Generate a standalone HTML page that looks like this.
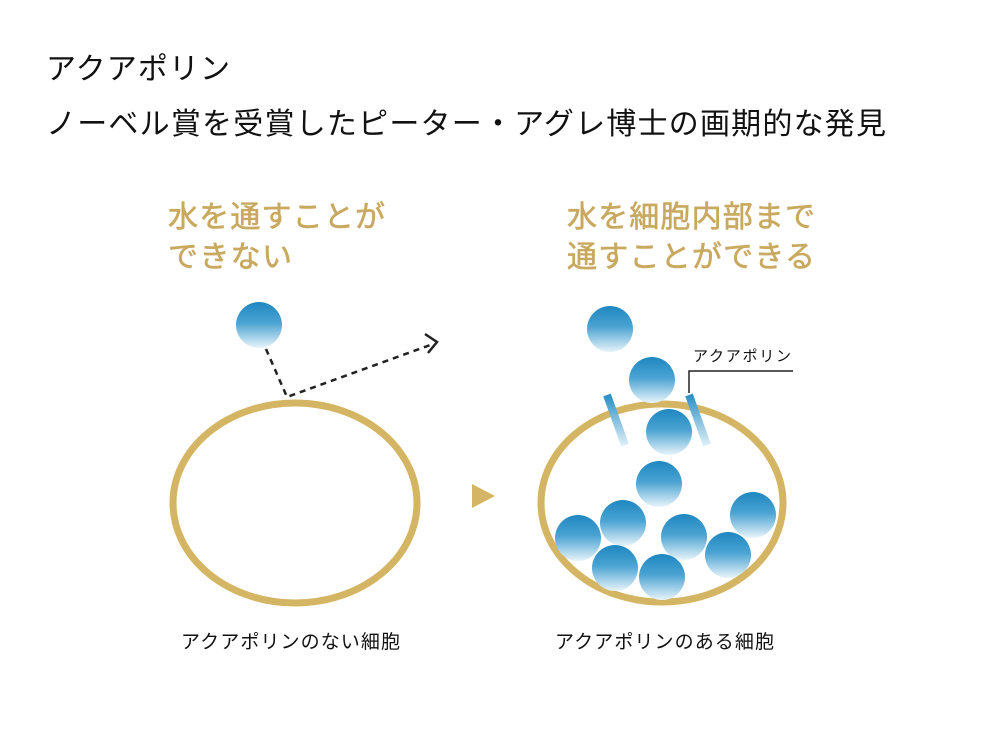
<!DOCTYPE html>
<html><head><meta charset="utf-8"><style>
html,body{margin:0;padding:0;background:#fff;}
svg{display:block;}
text{font-family:"Liberation Sans","Noto Sans CJK JP",sans-serif;}
</style></head><body>
<svg width="1000" height="750" viewBox="0 0 1000 750" xmlns="http://www.w3.org/2000/svg">
<defs>
<linearGradient id="b" x1="0" y1="0" x2="0" y2="1">
<stop offset="0" stop-color="#1f87c0"/><stop offset="0.45" stop-color="#4aa3d2"/><stop offset="1" stop-color="#e8f4fa"/>
</linearGradient>
<linearGradient id="c" x1="0" y1="0" x2="0" y2="1">
<stop offset="0" stop-color="#2a8fc4"/><stop offset="1" stop-color="#dceef8"/>
</linearGradient>
</defs>
<text x="46" y="79" font-size="30" fill="#111" textLength="184">アクアポリン</text>
<text x="46" y="134" font-size="30" fill="#111" textLength="840">ノーベル賞を受賞したピーター・アグレ博士の画期的な発見</text>

<g fill="#c9a95f" stroke="#c9a95f" stroke-width="0.6" font-size="30">
<text x="168" y="227" textLength="217">水を通すことが</text>
<text x="168" y="267" textLength="124">できない</text>
<text x="567" y="227" textLength="248">水を細胞内部まで</text>
<text x="567" y="267" textLength="248">通すことができる</text>
</g>

<circle cx="259" cy="325" r="23" fill="url(#b)"/>
<polyline points="266,349 287,397 433,344" fill="none" stroke="#222" stroke-width="2.5" stroke-dasharray="6,5"/>
<polyline points="425,334 437,342 428,353" fill="none" stroke="#222" stroke-width="2.5"/>

<ellipse cx="295" cy="503" rx="122" ry="100" fill="none" stroke="#d4b564" stroke-width="7"/>
<polygon points="472,484 495,496 472,508" fill="#d4b564"/>
<ellipse cx="662" cy="503" rx="121" ry="99" fill="none" stroke="#d4b564" stroke-width="7"/>

<line x1="607" y1="395" x2="625" y2="445" stroke="url(#c)" stroke-width="8"/>
<line x1="689" y1="395" x2="707" y2="445" stroke="url(#c)" stroke-width="8"/>
<polyline points="689,393 689,371 793,371" fill="none" stroke="#222" stroke-width="1.5"/>
<text x="693" y="361" font-size="15" fill="#111" textLength="98">アクアポリン</text>

<g fill="url(#b)">
<circle cx="610" cy="329" r="23"/>
<circle cx="652" cy="380" r="23"/>
<circle cx="669" cy="432" r="23"/>
<circle cx="659" cy="484" r="23"/>
<circle cx="623" cy="523" r="23"/>
<circle cx="578" cy="538" r="23"/>
<circle cx="684" cy="537" r="23"/>
<circle cx="753" cy="515" r="23"/>
<circle cx="615" cy="568" r="23"/>
<circle cx="728" cy="555" r="23"/>
<circle cx="662" cy="577" r="23"/>
</g>

<text x="181" y="648" font-size="19" fill="#111" textLength="219">アクアポリンのない細胞</text>
<text x="555" y="648" font-size="19" fill="#111" textLength="219">アクアポリンのある細胞</text>
</svg>
</body></html>
